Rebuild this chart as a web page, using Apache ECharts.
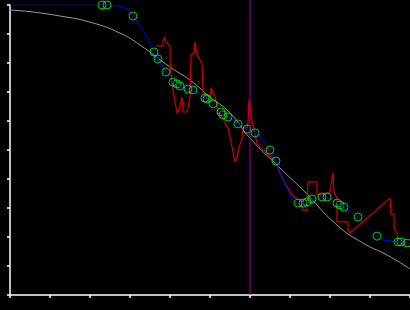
<!DOCTYPE html>
<html>
<head>
<meta charset="utf-8">
<script src="https://cdn.jsdelivr.net/npm/echarts@6/dist/echarts.min.js"></script>
<style>
html,body{margin:0;padding:0;background:#000;}
#chart{width:410px;height:310px;}
</style>
</head>
<body>
<div id="chart"></div>
<script>
// Grey reference curve
const greyCurve = [
  [-0.25, 9.86], [0, 9.83], [0.5, 9.77], [1.25, 9.62], [2, 9.41], [2.75, 9.03],
  [3.25, 8.62], [4, 7.86], [4.5, 7.41], [5, 6.83], [5.5, 6.28], [6, 5.41],
  [6.75, 4.38], [7.325, 3.62], [8.175, 2.41], [8.825, 1.79], [9.425, 1.38], [10, 0.90]
];
// Blue fitted line
const blueLine = [
  [0, 10], [2.3, 10], [2.425, 10], [2.675, 9.98], [2.925, 9.86], [3.075, 9.62],
  [3.325, 9.14], [3.6, 8.38], [3.7, 8.14], [3.9, 7.69], [4.075, 7.34], [4.175, 7.28],
  [4.25, 7.21], [4.45, 7.10], [4.575, 7.07], [4.875, 6.79], [4.925, 6.76], [5.075, 6.59],
  [5.275, 6.31], [5.325, 6.21], [5.45, 6.14], [5.7, 5.90], [5.925, 5.72], [6.125, 5.59],
  [6.5, 5.0], [6.65, 4.62], [6.8, 4.07], [6.925, 3.69], [7.075, 3.28], [7.2, 3.17],
  [7.325, 3.17], [7.425, 3.21], [7.55, 3.31], [7.8, 3.38], [7.925, 3.38], [8.175, 3.17],
  [8.25, 3.10], [8.35, 3.03], [8.7, 2.69], [9.175, 2.03], [9.325, 1.90], [9.575, 1.86],
  [9.7, 1.83], [9.775, 1.83], [9.925, 1.79], [10, 1.76]
];
// Green markers
const greenPoints = [
  [2.3, 10], [2.425, 10], [3.075, 9.62], [3.6, 8.38], [3.7, 8.14], [3.9, 7.69],
  [4.075, 7.34], [4.175, 7.28], [4.25, 7.21], [4.45, 7.10], [4.575, 7.07], [4.875, 6.79],
  [4.925, 6.76], [5.075, 6.59], [5.275, 6.31], [5.325, 6.21], [5.45, 6.14], [5.7, 5.90],
  [5.925, 5.72], [6.125, 5.59], [6.5, 5.0], [6.65, 4.62], [7.2, 3.17], [7.325, 3.17],
  [7.425, 3.21], [7.55, 3.31], [7.8, 3.38], [7.925, 3.38], [8.175, 3.17], [8.25, 3.10],
  [8.35, 3.03], [8.7, 2.69], [9.175, 2.03], [9.7, 1.83], [9.775, 1.83], [9.925, 1.79]
];
// Red measured signal
const redLine = [
  [3.65, 8.59], [3.825, 8.59], [3.825, 8.79], [3.875, 8.90], [3.9, 8.72], [3.95, 8.69],
  [3.975, 8.62], [4.0, 8.55], [4.0, 8.0], [4.05, 7.31], [4.125, 6.66], [4.175, 6.28],
  [4.225, 6.38], [4.3, 6.83], [4.325, 6.31], [4.425, 6.31], [4.5, 6.83], [4.525, 8.28],
  [4.6, 8.34], [4.625, 8.72], [4.675, 8.28], [4.725, 8.17], [4.8, 8.0], [4.825, 7.0],
  [4.925, 6.79], [4.975, 6.62], [5.025, 7.14], [5.075, 6.97], [5.125, 6.86], [5.175, 6.55],
  [5.2, 6.28], [5.3, 6.14], [5.45, 5.76], [5.5, 5.45], [5.55, 5.10], [5.625, 4.59],
  [5.675, 4.72], [5.725, 5.10], [5.8, 5.38], [5.825, 5.76], [5.925, 5.76], [5.95, 5.93],
  [5.975, 6.72], [6.0, 6.55], [6.05, 6.03], [6.1, 5.69], [6.175, 5.24], [6.25, 5.10],
  [6.45, 4.86], [6.625, 4.66], [6.75, 4.21], [6.875, 3.86], [7.05, 3.45], [7.175, 3.31],
  [7.3, 3.28], [7.3, 2.93], [7.425, 2.93], [7.425, 3.28], [7.45, 3.90], [7.675, 3.90],
  [7.675, 3.45], [7.825, 3.45], [8.0, 3.55], [8.05, 3.55], [8.075, 4.21], [8.1, 3.55],
  [8.175, 3.34], [8.175, 2.52], [8.45, 2.52], [8.45, 2.24], [8.5, 2.14], [9.5, 3.34],
  [9.525, 2.79], [9.6, 2.79], [9.6, 2.31], [9.675, 2.14], [9.7, 1.83], [9.8, 1.76],
  [9.925, 1.69], [10, 1.66]
];
// Vertical marker
const markerX = 6;
const markerLine = [[markerX, 0], [markerX, 10.17]];

const chart = echarts.init(document.getElementById('chart'));
const axisCommon = {
  type: 'value', min: 0, max: 10, interval: 1,
  axisLine: { show: true, onZero: false, lineStyle: { color: '#ffffff', width: 1.5 } },
  axisTick: { show: true, length: 3, lineStyle: { color: '#ffffff', width: 1.5 } },
  axisLabel: { show: false },
  splitLine: { show: false }
};
chart.setOption({
  animation: false,
  backgroundColor: '#000000',
  grid: { left: 10, right: 0, top: 5, bottom: 15, containLabel: false },
  xAxis: Object.assign({}, axisCommon),
  yAxis: Object.assign({}, axisCommon),
  series: [
    { type: 'line', data: greyCurve, smooth: true, showSymbol: false, clip: false,
      lineStyle: { color: '#9a9a9a', width: 1 }, z: 1 },
    { type: 'line', data: redLine, showSymbol: false,
      lineStyle: { color: '#d00000', width: 1.2 }, z: 2 },
    { type: 'line', data: blueLine, smooth: 0.3, showSymbol: false,
      lineStyle: { color: '#0000ff', width: 1 }, z: 3 },
    { type: 'scatter', data: greenPoints, symbol: 'circle', symbolSize: 8,
      itemStyle: { color: 'rgba(0,0,0,0)', borderColor: '#00ff00', borderWidth: 1 }, z: 4 },
    { type: 'scatter', data: greenPoints, symbol: 'circle', symbolSize: 2,
      itemStyle: { color: '#0000cc' }, z: 5 },
    { type: 'line', data: markerLine, showSymbol: false, clip: false,
      lineStyle: { color: '#a000a0', width: 1 }, z: 6 }
  ]
});
</script>
</body>
</html>
